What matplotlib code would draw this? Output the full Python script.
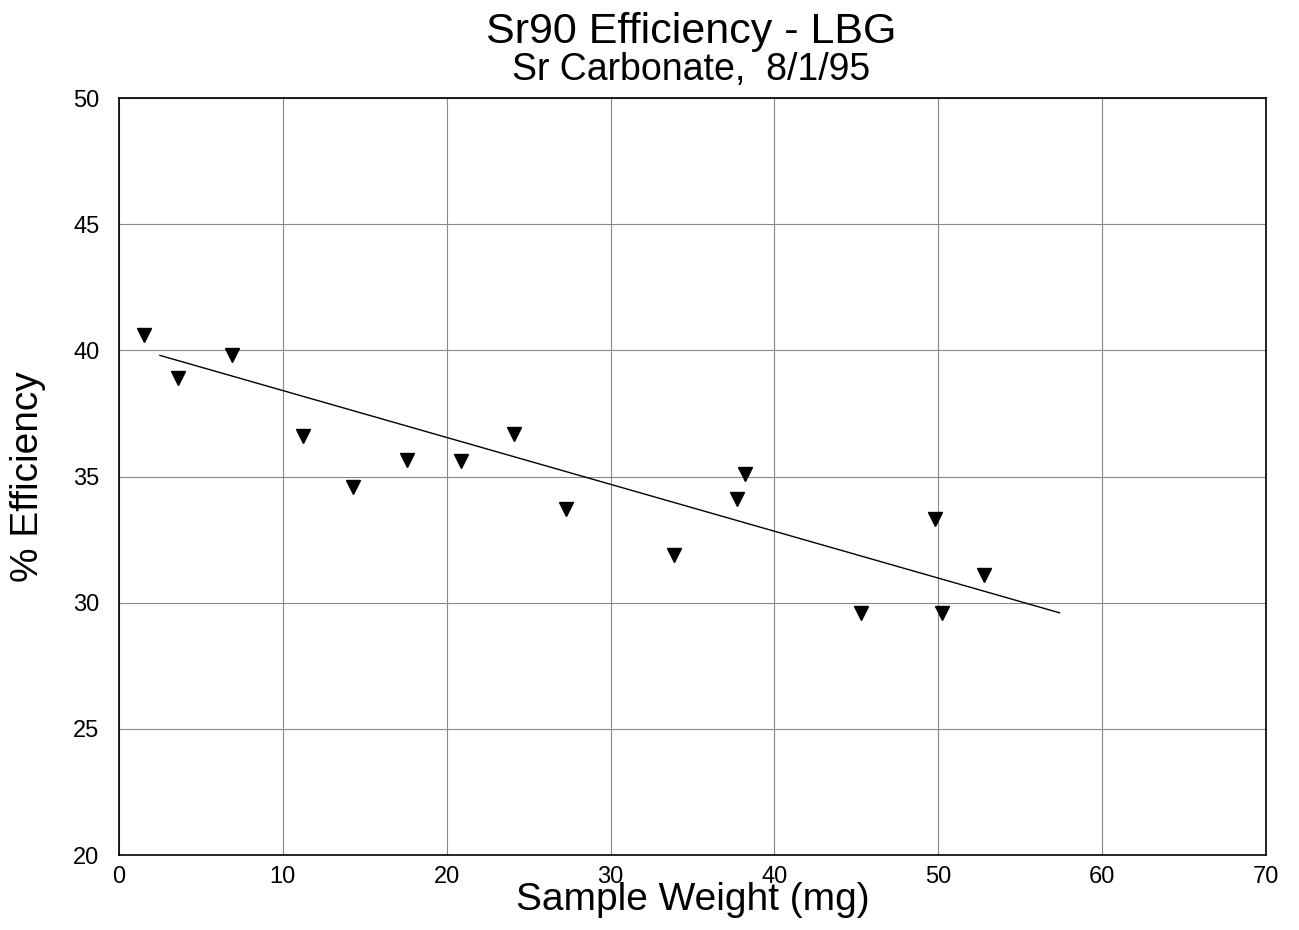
import numpy as np
import matplotlib
matplotlib.use("Agg")
import matplotlib.pyplot as plt

plt.rcParams['font.family'] = ['Liberation Sans', 'DejaVu Sans']

# Measured points (sample weight in mg, % efficiency)
weight = [1.5, 3.6, 6.9, 11.2, 14.3, 17.6, 20.9, 24.1, 27.3, 33.9,
          37.7, 38.2, 45.3, 49.8, 50.2, 52.8]
efficiency = [40.6, 38.9, 39.8, 36.6, 34.6, 35.65, 35.6, 36.7, 33.7, 31.9,
              34.1, 35.1, 29.6, 33.3, 29.6, 31.1]

# Fitted trend line endpoints as drawn
fit_x = [2.5, 57.4]
fit_y = [39.8, 29.6]

x_ticks = [0, 10, 20, 30, 40, 50, 60, 70]
y_ticks = [20, 25, 30, 35, 40, 45, 50]

fig = plt.figure(figsize=(12.99, 9.3), dpi=100)
ax = fig.add_axes([0.0916, 0.0806, 0.883, 0.814])

ax.plot(fit_x, fit_y, color='black', lw=1.0, zorder=3)
ax.plot(weight, efficiency, linestyle='none', marker='v', ms=9.5,
        color='black', zorder=4)

ax.set_xlim(0, 70)
ax.set_ylim(20, 50)
ax.set_xticks(x_ticks)
ax.set_yticks(y_ticks)
ax.grid(True, color='#888888', lw=0.8)
ax.set_axisbelow(True)
ax.tick_params(length=0, labelsize=17)
ax.tick_params(axis='y', pad=14)
ax.tick_params(axis='x', pad=8)
for s in ax.spines.values():
    s.set_linewidth(1.2)

ax.set_xlabel("Sample Weight (mg)", fontsize=28, va='baseline')
ax.xaxis.set_label_coords(0.5, -0.0727)
ax.set_ylabel("% Efficiency", fontsize=28, va='center')
ax.yaxis.set_label_coords(-0.079, 0.5)

fig.text(0.532, 0.9535, "Sr90 Efficiency - LBG", fontsize=31,
         ha='center', va='baseline')
fig.text(0.532, 0.914, "Sr Carbonate,  8/1/95", fontsize=27,
         ha='center', va='baseline')

fig.savefig("out.png", dpi=100)
